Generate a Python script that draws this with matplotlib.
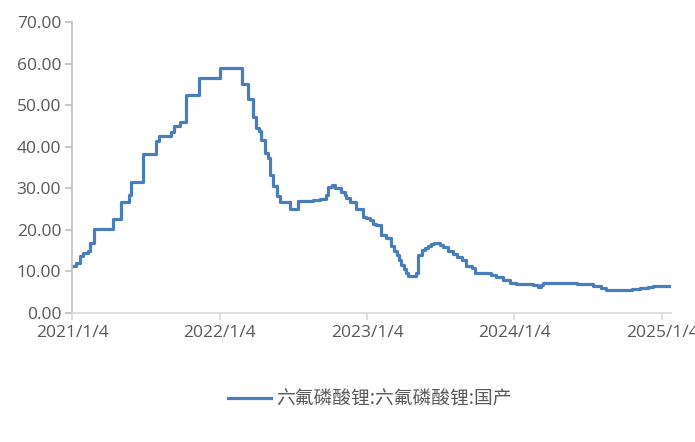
#!/usr/bin/env python3
"""六氟磷酸锂 国产价格走势 (2021/1/4 – 2025/1)."""

import matplotlib
matplotlib.use('Agg')
import matplotlib.pyplot as plt
import matplotlib.ticker as mticker
import pandas as pd

# ── data ─────────────────────────────────────────────────────────────────────
START = '2021-01-04'
days = [
    0, 8, 18, 26, 38, 45, 54, 102, 120, 140, 146, 175, 208, 216, 244, 252,
    266, 281, 314, 367, 420, 435, 448, 456, 462, 468, 477, 485, 489, 497,
    507, 515, 540, 559, 596, 613, 629, 634, 644, 650, 666, 675, 679, 687,
    702, 720, 727, 737, 744, 753, 764, 778, 790, 796, 803, 808, 815, 821,
    826, 831, 844, 852, 856, 865, 873, 881, 888, 897, 910, 918, 930, 943,
    952, 964, 976, 991, 997, 1026, 1036, 1050, 1067, 1083, 1100, 1141, 1154,
    1160, 1166, 1199, 1222, 1249, 1270, 1289, 1300, 1310, 1323, 1364, 1385,
    1406, 1425, 1438, 1456, 1478,
]
price = [
    11.2, 12.0, 13.8, 14.4, 14.8, 16.8, 20.2, 22.6, 26.6, 28.5, 31.6, 38.2,
    41.4, 42.6, 43.6, 45.0, 46.0, 52.4, 56.5, 59.0, 55.1, 51.6, 47.1, 44.4,
    43.7, 41.6, 38.4, 37.4, 33.2, 30.6, 28.1, 26.6, 25.0, 26.9, 27.1, 27.5,
    28.4, 30.4, 30.8, 30.0, 29.2, 28.3, 27.6, 26.6, 25.0, 23.2, 22.8, 22.4,
    21.5, 21.2, 18.8, 18.0, 16.0, 15.0, 14.0, 12.8, 11.5, 10.6, 9.5, 9.0,
    8.9, 9.5, 14.0, 15.2, 15.6, 16.1, 16.5, 16.9, 16.4, 15.8, 15.0, 14.1,
    13.4, 12.7, 11.3, 10.8, 9.7, 9.6, 9.2, 8.7, 7.9, 7.3, 6.9, 6.8, 6.3,
    6.8, 7.2, 7.3, 7.2, 7.0, 6.9, 6.6, 6.4, 6.0, 5.5, 5.6, 5.7,
    5.9, 6.2, 6.4, 6.5, 6.5,
]
tick_dates = ['2021-01-04', '2022-01-04', '2023-01-04', '2024-01-04', '2025-01-04']
series_name = '六氟磷酸锂:六氟磷酸锂:国产'

LINE_COLOR = '#4a7ebb'
TEXT_COLOR = '#595959'

dates = pd.Timestamp(START) + pd.to_timedelta(days, unit='D')

# ── figure ───────────────────────────────────────────────────────────────────
fig = plt.figure(figsize=(6.95, 4.42), dpi=100)
ax = fig.add_axes([0.104, 0.292, 0.861, 0.658])

ax.plot(dates, price, color=LINE_COLOR, lw=2.3, drawstyle='steps-post',
        label=series_name)

ax.set_ylim(0, 70)
ax.yaxis.set_major_locator(mticker.MultipleLocator(10))
ax.yaxis.set_major_formatter(mticker.FormatStrFormatter('%.2f'))

ticks = pd.to_datetime(tick_dates)
ax.set_xlim(pd.Timestamp(START), pd.Timestamp(START) + pd.Timedelta(days=1482))
ax.set_xticks(ticks)
ax.xaxis.set_major_formatter(mticker.FixedFormatter(
    [f'{t.year}/{t.month}/{t.day}' for t in ticks]))

for side in ('top', 'right'):
    ax.spines[side].set_visible(False)
ax.spines['left'].set_color('#bfbfbf')
ax.spines['bottom'].set_color('#d9d9d9')
ax.spines['left'].set_linewidth(1.2)
ax.spines['bottom'].set_linewidth(1.2)
ax.tick_params(axis='y', direction='out', length=5, width=1.2, color='#bfbfbf',
               labelsize=12.5, labelcolor=TEXT_COLOR, pad=3)
ax.tick_params(axis='x', direction='out', length=5, width=1.2, color='#d9d9d9',
               labelsize=12.5, labelcolor=TEXT_COLOR, pad=4)
for lbl in ax.get_xticklabels() + ax.get_yticklabels():
    lbl.set_fontfamily('Open Sans')

leg = fig.legend(loc='center', bbox_to_anchor=(0.532, 0.098), frameon=False,
                 handlelength=2.3, handletextpad=0.3,
                 prop={'family': ['Noto Sans CJK SC', 'DejaVu Sans'], 'size': 13.5})
for txt in leg.get_texts():
    txt.set_color(TEXT_COLOR)

fig.savefig('out.png', dpi=100)
print('Saved out.png')
